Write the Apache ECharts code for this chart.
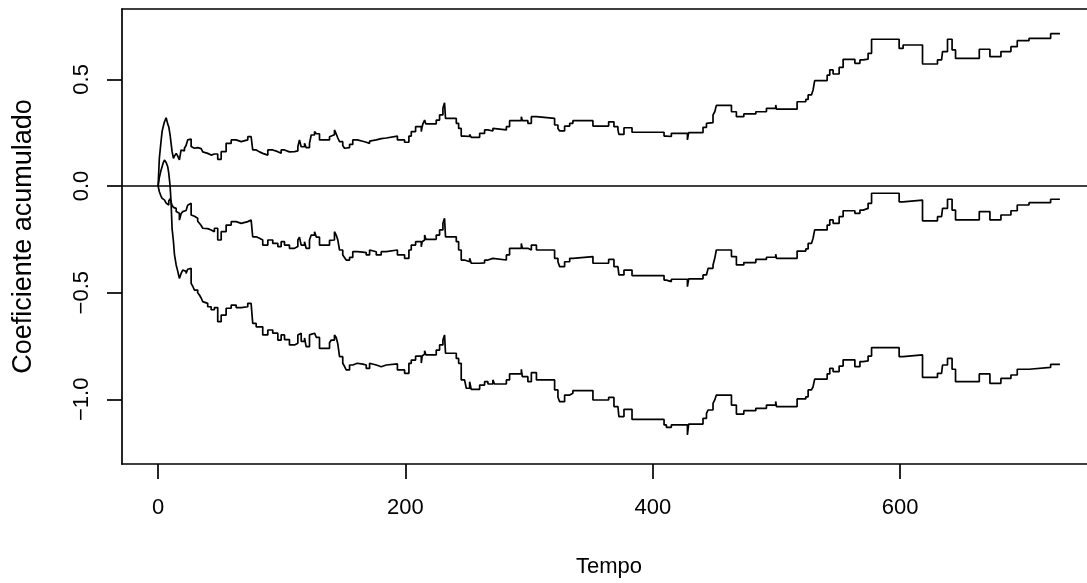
<!DOCTYPE html>
<html>
<head>
<meta charset="utf-8">
<script src="https://cdn.jsdelivr.net/npm/echarts@6/dist/echarts.min.js"></script>
<style>
  html, body { margin: 0; padding: 0; background: #fff; }
  #chart { width: 1087px; height: 583px; }
</style>
</head>
<body>
<div id="chart"></div>
<script>
// Jump times of the cumulative coefficient (step function)
const tempo = [
  0, 1.0, 2.2, 3.2, 4.2, 5.1, 6.5, 7.8, 8.6, 9.7, 10.5, 11.3, 12.4, 13.2, 14.6, 15.9, 17.2, 18.6, 19.9,
  21.3, 22.6, 23.9, 25.3, 26.7, 28.0, 29.4, 32.0, 33.4, 34.8, 36.1, 37.5, 40.1, 42.9, 45.5, 48.2, 51.0,
  55.0, 59.1, 63.1, 67.2, 72.5, 75.2, 76.5, 79.3, 82.0, 84.6, 88.7, 92.7, 96.8, 99.5, 102.2, 106.2,
  110.3, 113.0, 114.3, 115.7, 118.4, 119.7, 122.4, 123.8, 126.5, 128.0, 130.5, 138.6, 140.0, 142.6,
  144.0, 145.3, 146.7, 149.3, 150.7, 152.1, 154.8, 157.4, 161.0, 165.5, 168.3, 171.0, 172.3, 176.4,
  180.4, 184.5, 193.5, 199.3, 202.8, 204.7, 208.2, 212.8, 213.5, 214.1, 215.5, 216.5, 224.9, 227.6,
  230.3, 231.6, 232.4, 241.1, 243.0, 245.1, 247.8, 249.2, 251.9, 253.2, 260.0, 264.0, 266.7, 270.7,
  272.0, 281.6, 284.2, 293.7, 294.5, 299.0, 301.8, 305.9, 320.6, 323.3, 324.7, 328.7, 332.8, 335.4,
  351.6, 364.3, 368.6, 371.8, 372.6, 376.7, 383.2, 409.1, 411.0, 415.0, 428.0, 429.0, 440.6, 443.4,
  444.7, 448.7, 450.1, 451.4, 463.6, 467.6, 473.6, 483.3, 491.9, 499.4, 500.0, 516.7, 523.7, 525.6,
  528.3, 529.6, 530.9, 541.0, 543.1, 545.8, 550.7, 553.9, 563.4, 567.5, 570.1, 574.1, 576.9, 599.2,
  602.4, 618.1, 630.2, 633.5, 634.3, 638.3, 642.0, 644.8, 664.0, 672.6, 681.5, 689.6, 694.7, 704.2,
  721.7, 729.2
];

// Upper confidence band
const superior = [
  0, 0.13, 0.2, 0.255, 0.28, 0.30, 0.32, 0.29, 0.278, 0.239, 0.2, 0.161, 0.13, 0.14, 0.153, 0.14, 0.122, 0.169, 0.165,
  0.177, 0.19, 0.216, 0.22, 0.185, 0.177, 0.18, 0.184, 0.175, 0.169, 0.16, 0.153, 0.145, 0.15, 0.15, 0.125, 0.161,
  0.2, 0.216, 0.208, 0.216, 0.231, 0.234, 0.169, 0.16, 0.153, 0.145, 0.169, 0.161, 0.153, 0.169, 0.16, 0.161,
  0.165, 0.184, 0.216, 0.184, 0.2, 0.18, 0.2, 0.239, 0.255, 0.245, 0.216, 0.231, 0.24, 0.263,
  0.245, 0.225, 0.208, 0.19, 0.177, 0.18, 0.195, 0.216, 0.21, 0.205, 0.2, 0.21, 0.216, 0.222,
  0.225, 0.234, 0.216, 0.205, 0.234, 0.255, 0.278, 0.255, 0.278, 0.291, 0.309, 0.291, 0.309, 0.333,
  0.364, 0.39, 0.317, 0.294, 0.27, 0.234, 0.239, 0.232, 0.242, 0.228, 0.247, 0.263, 0.258, 0.27,
  0.263, 0.278, 0.306, 0.325, 0.306, 0.294, 0.325, 0.317, 0.286, 0.27, 0.258, 0.281, 0.294, 0.306,
  0.281, 0.301, 0.278, 0.263, 0.242, 0.273, 0.252, 0.234, 0.232, 0.247, 0.216, 0.25, 0.275, 0.294,
  0.297, 0.333, 0.348, 0.378, 0.348, 0.325, 0.338, 0.348, 0.364, 0.38, 0.36, 0.395, 0.406, 0.427,
  0.435, 0.45, 0.494, 0.52, 0.544, 0.525, 0.556, 0.594, 0.575, 0.591, 0.595, 0.622, 0.688, 0.645,
  0.661, 0.572, 0.591, 0.598, 0.63, 0.688, 0.638, 0.598, 0.641, 0.606, 0.63, 0.653, 0.681, 0.692,
  0.714, 0.714
];

// Estimated cumulative coefficient
const coef = [
  0, -0.027, -0.045, -0.058, -0.065, -0.074, -0.08, -0.089, -0.07, -0.06, -0.066, -0.09, -0.1, -0.105, -0.12, -0.128, -0.16, -0.13, -0.12,
  -0.115, -0.113, -0.09, -0.081, -0.136, -0.142, -0.151, -0.165, -0.175, -0.185, -0.198, -0.2, -0.206, -0.215, -0.198, -0.253, -0.214,
  -0.183, -0.167, -0.175, -0.167, -0.159, -0.156, -0.238, -0.245, -0.253, -0.277, -0.253, -0.269, -0.284, -0.261, -0.277, -0.292,
  -0.284, -0.253, -0.24, -0.277, -0.261, -0.292, -0.253, -0.23, -0.214, -0.24, -0.277, -0.255, -0.253, -0.214,
  -0.23, -0.253, -0.3, -0.323, -0.335, -0.347, -0.335, -0.308, -0.31, -0.312, -0.323, -0.3, -0.308, -0.323,
  -0.308, -0.3, -0.323, -0.339, -0.3, -0.277, -0.261, -0.285, -0.261, -0.253, -0.23, -0.25, -0.23, -0.206,
  -0.175, -0.151, -0.238, -0.261, -0.3, -0.347, -0.339, -0.355, -0.339, -0.362, -0.36, -0.347, -0.339, -0.334,
  -0.347, -0.323, -0.292, -0.269, -0.292, -0.3, -0.277, -0.3, -0.339, -0.355, -0.378, -0.355, -0.339, -0.331,
  -0.362, -0.344, -0.378, -0.386, -0.417, -0.394, -0.42, -0.441, -0.448, -0.437, -0.472, -0.435, -0.417, -0.41,
  -0.386, -0.37, -0.339, -0.3, -0.331, -0.37, -0.359, -0.344, -0.334, -0.32, -0.339, -0.305, -0.295, -0.269,
  -0.261, -0.245, -0.206, -0.183, -0.159, -0.175, -0.144, -0.116, -0.128, -0.113, -0.105, -0.081, -0.034, -0.074,
  -0.066, -0.163, -0.144, -0.136, -0.105, -0.062, -0.113, -0.159, -0.12, -0.159, -0.136, -0.116, -0.089, -0.078,
  -0.062, -0.062
];

// Lower confidence band
const inferior = [
  0, 0.04, 0.07, 0.09, 0.11, 0.122, 0.11, 0.09, 0.06, 0.0, -0.08, -0.2, -0.26, -0.32, -0.37, -0.40, -0.433, -0.41, -0.394,
  -0.40, -0.41, -0.39, -0.386, -0.456, -0.47, -0.488, -0.50, -0.511, -0.525, -0.542, -0.55, -0.566, -0.58, -0.57, -0.636, -0.605,
  -0.573, -0.558, -0.57, -0.566, -0.55, -0.55, -0.644, -0.66, -0.66, -0.698, -0.675, -0.69, -0.722, -0.698, -0.72, -0.745,
  -0.737, -0.698, -0.69, -0.728, -0.712, -0.753, -0.698, -0.69, -0.683, -0.71, -0.761, -0.735, -0.722, -0.698,
  -0.71, -0.74, -0.8, -0.831, -0.845, -0.862, -0.839, -0.831, -0.835, -0.839, -0.855, -0.831, -0.839, -0.847,
  -0.839, -0.834, -0.862, -0.878, -0.831, -0.816, -0.797, -0.83, -0.797, -0.788, -0.772, -0.792, -0.769, -0.745,
  -0.722, -0.698, -0.784, -0.808, -0.831, -0.909, -0.917, -0.948, -0.917, -0.953, -0.933, -0.917, -0.928, -0.909,
  -0.928, -0.909, -0.881, -0.859, -0.894, -0.917, -0.875, -0.909, -0.956, -0.99, -1.011, -0.98, -0.972, -0.959,
  -1.003, -0.991, -1.034, -1.042, -1.081, -1.047, -1.094, -1.12, -1.131, -1.12, -1.167, -1.116, -1.089, -1.066,
  -1.05, -1.019, -1.003, -0.98, -1.027, -1.069, -1.053, -1.042, -1.027, -1.01, -1.034, -0.998, -0.988, -0.956,
  -0.948, -0.941, -0.905, -0.881, -0.855, -0.87, -0.844, -0.815, -0.847, -0.823, -0.82, -0.797, -0.758, -0.8,
  -0.792, -0.897, -0.878, -0.87, -0.839, -0.808, -0.859, -0.917, -0.881, -0.925, -0.902, -0.886, -0.859, -0.85,
  -0.836, -0.836
];

// Axis ticks
const ticksX = [0, 200, 400, 600];
const ticksY = [-1.0, -0.5, 0.0, 0.5];

const pairs = vals => tempo.map((t, i) => [t, vals[i]]);
const fmtY = v => v.toFixed(1).replace('-', '\u2212');

const FONT = '"Liberation Sans", Arial, Helvetica, sans-serif';
const INK = '#000';
const LW = 1.7;

const stepLine = (name, vals, extra) => Object.assign({
  name: name,
  type: 'line',
  step: 'end',
  data: pairs(vals),
  showSymbol: false,
  symbol: 'none',
  silent: true,
  animation: false,
  lineStyle: { color: INK, width: LW },
  z: 3
}, extra || {});

const chart = echarts.init(document.getElementById('chart'), null, { renderer: 'canvas' });

// The plotting box runs past the right edge of the canvas, so the frame is
// built from axis lines (bottom, top, left) rather than a full grid border.
chart.setOption({
  backgroundColor: '#fff',
  animation: false,
  textStyle: { fontFamily: FONT, color: INK },
  grid: { left: 122, top: 9, right: 0, bottom: 119, show: false },
  xAxis: [{
    type: 'value',
    position: 'bottom',
    min: -29.2, max: 751.1,
    name: 'Tempo',
    nameLocation: 'middle',
    nameGap: 92,
    // centred on the full plotting box, which extends a little past the canvas
    nameTextStyle: { fontFamily: FONT, fontSize: 22, color: INK, padding: [0, 0, 0, 9] },
    axisLine: { show: true, onZero: false, lineStyle: { color: INK, width: LW } },
    axisTick: { show: true, inside: false, length: 15, customValues: ticksX, lineStyle: { color: INK, width: LW } },
    axisLabel: { show: true, margin: 33, customValues: ticksX, fontFamily: FONT, fontSize: 22, color: INK },
    splitLine: { show: false }
  }, {
    type: 'value',
    position: 'top',
    min: -29.2, max: 751.1,
    axisLine: { show: true, onZero: false, lineStyle: { color: INK, width: LW } },
    axisTick: { show: false },
    axisLabel: { show: false },
    splitLine: { show: false }
  }],
  yAxis: {
    type: 'value',
    position: 'left',
    min: -1.3031, max: 0.8297,
    name: 'Coeficiente acumulado',
    nameLocation: 'middle',
    nameGap: 85,
    nameRotate: 90,
    nameTextStyle: { fontFamily: FONT, fontSize: 27, color: INK },
    axisLine: { show: true, onZero: false, lineStyle: { color: INK, width: LW } },
    axisTick: { show: true, inside: false, length: 15, customValues: ticksY, lineStyle: { color: INK, width: LW } },
    axisLabel: { show: true, rotate: 90, margin: 29, customValues: ticksY, formatter: fmtY, fontFamily: FONT, fontSize: 22, color: INK },
    splitLine: { show: false }
  },
  series: [
    stepLine('superior', superior),
    stepLine('coef', coef, {
      markLine: {
        silent: true,
        symbol: ['none', 'none'],
        label: { show: false },
        lineStyle: { color: INK, width: LW, type: 'solid' },
        data: [{ yAxis: 0 }]
      }
    }),
    stepLine('inferior', inferior)
  ]
});
</script>
</body>
</html>
